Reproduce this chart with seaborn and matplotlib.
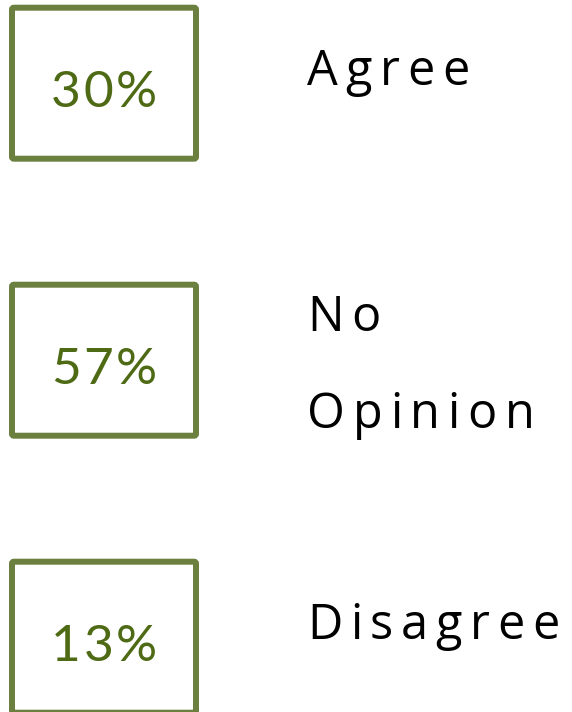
import matplotlib
matplotlib.use('Agg')
import matplotlib.pyplot as plt
from matplotlib.patches import FancyBboxPatch
import seaborn as sns

sns.set_style('white')
plt.rcParams['font.family'] = ['Lato', 'DejaVu Sans']

# data
labels = ['Agree', 'No\nOpinion', 'Disagree']
shares = [30, 57, 13]

box_edge = '#6b7f3f'
pct_color = '#4e6a14'

fig = plt.figure(figsize=(5.72, 7.12), dpi=100)
ax = fig.add_axes([0, 0, 1, 1])
ax.set_xlim(0, 572)
ax.set_ylim(712, 0)
ax.axis('off')
renderer = fig.canvas.get_renderer()


def tracked(x, y, s, size, color, spacing, family='Lato'):
    # draw text one char at a time so we get letter spacing
    for ch in s:
        t = ax.text(x, y, ch, fontsize=size, color=color, va='baseline',
                    ha='left', family=family)
        bb = t.get_window_extent(renderer=renderer)
        x += bb.width + spacing


def text_width(s, size, spacing):
    w = 0
    for ch in s:
        t = ax.text(0, 0, ch, fontsize=size)
        w += t.get_window_extent(renderer=renderer).width + spacing
        t.remove()
    return w - spacing


pitch = 277
for i, (lab, val) in enumerate(zip(labels, shares)):
    top = 7.7 + i * pitch
    cy = top + 75.5
    ax.add_patch(FancyBboxPatch((12, top), 184, 151,
                                boxstyle='round,pad=0,rounding_size=2',
                                fill=False, ec=box_edge, lw=4.3))
    s = f'{val}%'
    w = text_width(s, 37, 3)
    tracked(104 - w / 2, cy + 24, s, 37, pct_color, 3)
    lines = lab.split('\n')
    base = cy + 2 - (len(lines) - 1) * 31
    for k, ln in enumerate(lines):
        tracked(307, base + k * 97, ln, 35, 'black', 7.7, family='Open Sans')

fig.savefig('out.png', dpi=100)
